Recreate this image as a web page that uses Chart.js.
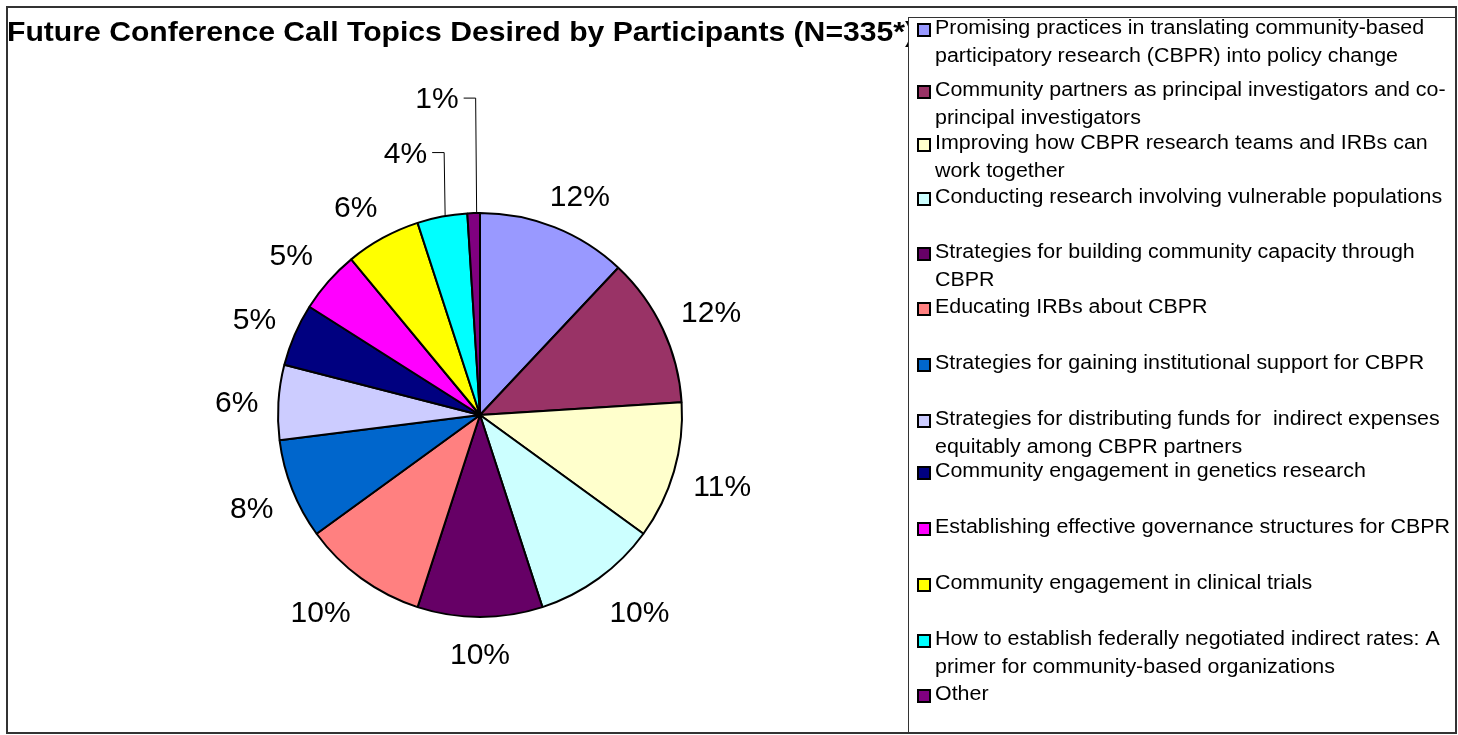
<!DOCTYPE html>
<html>
<head>
<meta charset="utf-8">
<title>Future Conference Call Topics</title>
<script src="https://cdn.jsdelivr.net/npm/chart.js@4/dist/chart.umd.min.js"></script>
<style>
  html, body { margin: 0; padding: 0; background: #ffffff; }
  #wrap { width: 1458px; height: 735px; }
</style>
</head>
<body>
<div id="wrap"><canvas id="pie" width="1458" height="735"></canvas></div>
<script>
// Topics (legend lines as they wrap in the legend box)
const topics = [
  ["Promising practices in translating community-based", "participatory research (CBPR) into policy change"],
  ["Community partners as principal investigators and co-", "principal investigators"],
  ["Improving how CBPR research teams and IRBs can", "work together"],
  ["Conducting research involving vulnerable populations"],
  ["Strategies for building community capacity through", "CBPR"],
  ["Educating IRBs about CBPR"],
  ["Strategies for gaining institutional support for CBPR"],
  ["Strategies for distributing funds for  indirect expenses", "equitably among CBPR partners"],
  ["Community engagement in genetics research"],
  ["Establishing effective governance structures for CBPR"],
  ["Community engagement in clinical trials"],
  ["How to establish federally negotiated indirect rates: A", "primer for community-based organizations"],
  ["Other"]
];

// Share of participants choosing each topic (%)
const shares = [12, 12, 11, 10, 10, 10, 8, 6, 5, 5, 6, 4, 1];

const chartTitle = "Future Conference Call Topics Desired by Participants (N=335*)";

// Slice fills
const sliceColors = [
  "#9999FF", "#993366", "#FFFFCC", "#CCFFFF", "#660066", "#FF8080", "#0066CC",
  "#CCCCFF", "#000080", "#FF00FF", "#FFFF00", "#00FFFF", "#800080"
];

const FONT = '"Liberation Sans", Arial, Helvetica, sans-serif';

// layout of the decorations
const LEGEND_BOX = { left: 908, top: 17, right: 1456, bottom: 733 };
const LEGEND_ROW_Y = [28, 90, 143, 197, 252, 307, 363, 419, 471, 527, 583, 639, 694];
const LEGEND_LINE_H = 28;
const LEGEND_TEXT_X = 935;
const LEGEND_WIDEST = 515;   // width of the longest single legend line
const LEADER_RISE = { 11: 64, 12: 115 };

const decorations = {
  id: 'decorations',
  afterDraw(chart) {
    const ctx = chart.ctx;
    const meta = chart.getDatasetMeta(0);
    const total = shares.reduce((a, b) => a + b, 0);

    ctx.save();

    // title, squeezed to run from the left frame up to the legend
    ctx.font = 'bold 27px ' + FONT;
    ctx.fillStyle = '#000';
    ctx.textBaseline = 'alphabetic';
    ctx.textAlign = 'left';
    const visible = chartTitle.slice(0, chartTitle.length - 1);
    const sx = 898 / ctx.measureText(visible).width;
    ctx.save();
    ctx.translate(7, 41);
    ctx.scale(sx, 1);
    ctx.fillText(chartTitle, 0, 0);
    ctx.restore();

    // percentage labels
    ctx.font = '30px ' + FONT;
    ctx.fillStyle = '#000';
    ctx.textBaseline = 'middle';
    const clamp = v => Math.max(-1, Math.min(1, v));
    meta.data.forEach((arc, i) => {
      const p = arc.getProps(['x', 'y', 'startAngle', 'endAngle', 'outerRadius'], true);
      const mid = (p.startAngle + p.endAngle) / 2;
      const cx = Math.cos(mid), cy = Math.sin(mid);
      const label = Math.round(shares[i] / total * 100) + '%';
      const w = ctx.measureText(label).width + 4;
      const h = 34;
      if (LEADER_RISE[i] !== undefined) {
        const ex = p.x + p.outerRadius * cx;
        const ey = p.y + p.outerRadius * cy;
        const kx = ex + 2;
        const ky = ey - LEADER_RISE[i];
        ctx.strokeStyle = '#000';
        ctx.lineWidth = 1;
        ctx.beginPath();
        ctx.moveTo(ex + 3, ey);
        ctx.lineTo(kx, ky);
        ctx.lineTo(kx - 12, ky);
        ctx.stroke();
        ctx.textAlign = 'right';
        ctx.fillText(label, kx - 17, ky + 2);
      } else {
        const g = 18;
        const ax = p.x + (p.outerRadius + g) * cx;
        const ay = p.y + (p.outerRadius + g) * cy;
        const lx = ax + clamp(1.6 * cx) * w / 2;
        const ly = ay + clamp(1.6 * cy) * h / 2 + 4;
        ctx.textAlign = 'center';
        ctx.fillText(label, lx, ly);
      }
    });

    // legend box
    const L = LEGEND_BOX;
    ctx.fillStyle = '#fff';
    ctx.fillRect(L.left, L.top, L.right - L.left, L.bottom - L.top);
    ctx.strokeStyle = '#333';
    ctx.lineWidth = 1;
    ctx.strokeRect(L.left + 0.5, L.top + 0.5, L.right - L.left, L.bottom - L.top);

    ctx.font = '20px ' + FONT;
    ctx.textAlign = 'left';
    ctx.textBaseline = 'middle';
    const longest = Math.max(...topics.flat().map(t => ctx.measureText(t).width));
    const lsx = LEGEND_WIDEST / longest;
    topics.forEach((lines, i) => {
      const y0 = LEGEND_ROW_Y[i];
      // swatch
      ctx.fillStyle = sliceColors[i];
      ctx.fillRect(918, y0 - 4, 12, 12);
      ctx.strokeStyle = '#000';
      ctx.lineWidth = 2;
      ctx.strokeRect(918, y0 - 4, 12, 12);
      ctx.fillStyle = '#000';
      lines.forEach((t, j) => {
        ctx.save();
        ctx.translate(LEGEND_TEXT_X, y0 + j * LEGEND_LINE_H);
        ctx.scale(lsx, 1);
        ctx.fillText(t, 0, 0);
        ctx.restore();
      });
    });

    // outer frame
    ctx.strokeStyle = '#333';
    ctx.lineWidth = 2;
    ctx.strokeRect(7, 7, 1449, 726);

    ctx.restore();
  }
};

new Chart(document.getElementById('pie'), {
  type: 'pie',
  data: {
    labels: topics,
    datasets: [{
      data: shares,
      backgroundColor: sliceColors,
      borderColor: '#000',
      borderWidth: 2
    }]
  },
  options: {
    responsive: false,
    animation: false,
    radius: 202,
    layout: { padding: { left: 278, right: 776, top: 213, bottom: 118 } },
    plugins: {
      legend: { display: false },
      tooltip: { enabled: false },
      title: { display: false }
    }
  },
  plugins: [decorations]
});
</script>
</body>
</html>
